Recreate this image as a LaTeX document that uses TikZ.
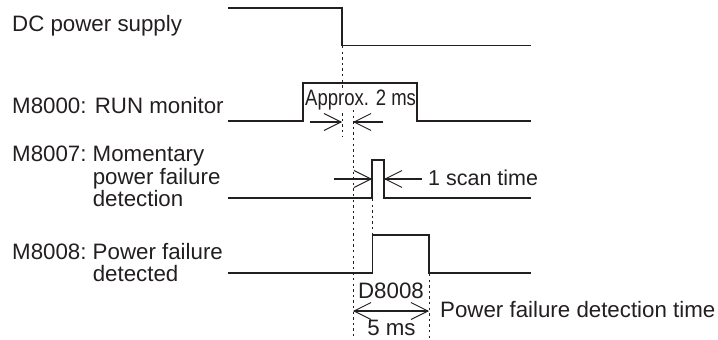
\documentclass[tikz,border=0pt]{standalone}
\usepackage{fontspec}
\setmainfont{Liberation Sans}
\usetikzlibrary{arrows.meta}
\definecolor{ink}{RGB}{35,31,32}
\tikzset{
  barb/.tip={Straight Barb[length=17pt,width=17pt,line width=0.9pt]},
}
\begin{document}
\begin{tikzpicture}[x=1pt,y=-1pt,
  sig/.style={line width=1.8pt, draw=ink, line join=miter},
  guide/.style={line width=0.9pt, draw=ink, dash pattern=on 2.4pt off 3.2pt},
  dim/.style={line width=1.3pt, draw=ink, -barb},
  ddim/.style={line width=1.3pt, draw=ink, barb-barb},
  lbl/.style={inner sep=0pt, text=ink, font=\fontsize{22.3}{21}\selectfont},
]
\useasboundingbox (0,0) rectangle (718,340);

% guide lines (dotted)
\draw[guide] (342,46) -- (342,137);
\draw[guide] (353,110) -- (353,338);
\draw[guide] (372,199) -- (372,235);
\draw[guide] (429,274) -- (429,338);

% labels
\node[lbl, anchor=base west] (dc) at (12,31.5) {DC power supply};
\node[lbl, anchor=base west] (m8000) at (12,113) {M8000: RUN monitor};
\node[lbl, anchor=base west] (m8007) at (12,161.7)
  {\begin{tabular}[t]{@{}l@{\ }l@{}}M8007: & Momentary\\ & power failure\\ & detection\end{tabular}};
\node[lbl, anchor=base west] (m8008) at (12,259.3)
  {\begin{tabular}[t]{@{}l@{\ }l@{}}M8008: & Power failure\\ & detected\end{tabular}};
\node[lbl, anchor=base west, fill=white] (apx) at (305,105.5) {\scalebox{0.83}[1]{Approx. 2 ms}};
\node[lbl, anchor=base west, font=\fontsize{21.5}{21}\selectfont] (scan) at (428,185) {1 scan time};
\node[lbl, anchor=base] (d8008) at (391,298.3) {D8008};
\node[lbl, anchor=base] (five) at (391.5,335.5) {5 ms};
\node[lbl, anchor=base west] (pfdt) at (440,317.3) {Power failure detection time};

% signals
\draw[sig] (228,8) -- (342,8) -- (342,45.5) -- (531,45.5);
\draw[sig] (228,121) -- (303,121) -- (303,83) -- (417,83) -- (417,121) -- (531,121);
\draw[sig] (228,198) -- (372,198) -- (372,160) -- (384,160) -- (384,198) -- (531,198);
\draw[sig] (228,273) -- (372.5,273) -- (372.5,235) -- (429,235) -- (429,273) -- (531,273);

% dimension arrows
\coordinate (apL0) at (310,122); \coordinate (apL1) at (342,122);
\coordinate (apR0) at (383,122); \coordinate (apR1) at (353,122);
\coordinate (scL0) at (334,179); \coordinate (scL1) at (372,179);
\coordinate (scR0) at (422,179); \coordinate (scR1) at (384,179);
\coordinate (dL) at (353,311); \coordinate (dR) at (429,311);
\draw[dim] (apL0) -- (apL1);
\draw[dim] (apR0) -- (apR1);
\draw[dim] (scL0) -- (scL1);
\draw[dim] (scR0) -- (scR1);
\draw[ddim] (dL) -- (dR);
\end{tikzpicture}
\end{document}
